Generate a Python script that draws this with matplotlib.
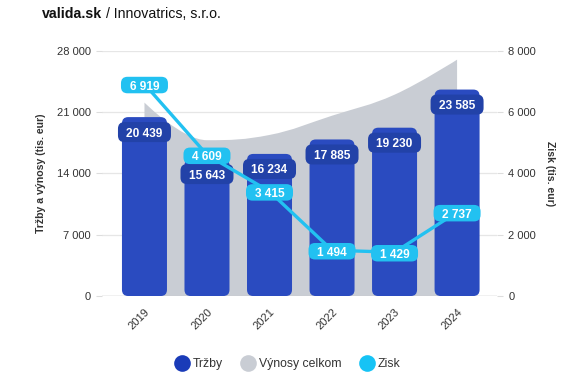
import matplotlib

matplotlib.use("Agg")
import matplotlib.pyplot as plt
import matplotlib.transforms as mtransforms
from matplotlib.lines import Line2D
from matplotlib.patches import FancyBboxPatch, PathPatch
from matplotlib.path import Path


YEARS = ["2019", "2020", "2021", "2022", "2023", "2024"]
TRZBY = [20439, 15643, 16234, 17885, 19230, 23585]
VYNOSY = [22100, 17800, 18400, 20600, 23000, 27000]
ZISK = [6919, 4609, 3415, 1494, 1429, 2737]

LEFT_TICKS = [0, 7000, 14000, 21000, 28000]
RIGHT_TICKS = [0, 2000, 4000, 6000, 8000]

BAR_COLOR = "#2a4bc0"
BAR_LABEL_COLOR = "#2242a8"
AREA_COLOR = "#c9cdd4"
LINE_COLOR = "#22c1f1"
TEXT_COLOR = "#333333"

plt.rcParams["font.family"] = ["Liberation Sans", "DejaVu Sans"]


def fmt(v):
    return f"{v:,}".replace(",", " ")


def spline_path(xs, ys, smoothing=1.5):
    # highcharts-like spline: cubic bezier with control points per point
    n = len(xs)
    left = [(xs[i], ys[i]) for i in range(n)]
    right = [(xs[i], ys[i]) for i in range(n)]
    denom = smoothing + 1
    for i in range(1, n - 1):
        px, py = xs[i - 1], ys[i - 1]
        nx, ny = xs[i + 1], ys[i + 1]
        lx = (smoothing * xs[i] + px) / denom
        ly = (smoothing * ys[i] + py) / denom
        rx = (smoothing * xs[i] + nx) / denom
        ry = (smoothing * ys[i] + ny) / denom
        corr = (ry - ly) * (rx - xs[i]) / (rx - lx) + ys[i] - ry
        ly += corr
        ry += corr
        if ly > max(py, ys[i]):
            ly = max(py, ys[i])
            ry = 2 * ys[i] - ly
        elif ly < min(py, ys[i]):
            ly = min(py, ys[i])
            ry = 2 * ys[i] - ly
        if ry > max(ny, ys[i]):
            ry = max(ny, ys[i])
            ly = 2 * ys[i] - ry
        elif ry < min(ny, ys[i]):
            ry = min(ny, ys[i])
            ly = 2 * ys[i] - ry
        left[i] = (lx, ly)
        right[i] = (rx, ry)

    verts = [(xs[0], 0), (xs[0], ys[0])]
    codes = [Path.MOVETO, Path.LINETO]
    for i in range(1, n):
        verts += [right[i - 1], left[i], (xs[i], ys[i])]
        codes += [Path.CURVE4] * 3
    verts += [(xs[-1], 0), (xs[0], 0)]
    codes += [Path.LINETO, Path.CLOSEPOLY]
    return Path(verts, codes)


def badge(fig, ax, xi, v, text, color, width, height, dy, zorder):
    # rounded label box sized in inches, anchored at a data point
    trans = fig.dpi_scale_trans + mtransforms.ScaledTranslation(
        xi, v, ax.transData)
    box = FancyBboxPatch(
        (-width / 2, dy - height / 2), width, height,
        boxstyle="round,pad=0,rounding_size=0.065",
        transform=trans, facecolor=color, edgecolor="none", zorder=zorder,
        clip_on=False,
    )
    ax.add_patch(box)
    ax.text(0, dy, text, transform=trans, ha="center", va="center_baseline",
            fontsize=8.6, fontweight="bold", color="white",
            zorder=zorder + 0.1)


def main() -> None:
    fig = plt.figure(figsize=(5.76, 3.8), dpi=100)
    ax = fig.add_axes([0.177, 0.221, 0.686, 0.645])
    ax2 = ax.twinx()

    x = list(range(len(YEARS)))

    ax.set_xlim(-0.68, 5.64)
    ax.set_ylim(0, 28000)
    ax2.set_ylim(0, 8000)

    # gray area for total revenue
    area = PathPatch(spline_path(x, VYNOSY), facecolor=AREA_COLOR,
                     edgecolor="none", zorder=1)
    ax.add_patch(area)

    # rounded bars
    bar_w = 0.72
    aspect = 28000 / 245 * 62.8
    for xi, v in zip(x, TRZBY):
        patch = FancyBboxPatch(
            (xi - bar_w / 2, 0), bar_w, v,
            boxstyle="round,pad=0,rounding_size=0.1",
            mutation_aspect=aspect,
            facecolor=BAR_COLOR, edgecolor="none", zorder=2,
        )
        ax.add_patch(patch)
    for xi, v in zip(x, TRZBY):
        badge(fig, ax, xi, v, fmt(v), BAR_LABEL_COLOR, 0.53, 0.20, -0.15, 3)

    # profit line
    ax2.plot(x, ZISK, color=LINE_COLOR, linewidth=2.4, zorder=4,
             solid_capstyle="round")
    for xi, v in zip(x, ZISK):
        badge(fig, ax2, xi, v, fmt(v), LINE_COLOR, 0.47, 0.165, -0.01, 5)

    ax.set_xticks(x)
    ax.set_xticklabels(YEARS, rotation=45, ha="right", rotation_mode="anchor",
                       fontsize=8, color=TEXT_COLOR)
    ax.tick_params(axis="x", length=0, pad=8)

    ax.set_yticks(LEFT_TICKS)
    ax.set_yticklabels([fmt(t) for t in LEFT_TICKS], fontsize=8,
                       color=TEXT_COLOR)
    ax2.set_yticks(RIGHT_TICKS)
    ax2.set_yticklabels([fmt(t) for t in RIGHT_TICKS], fontsize=8,
                        color=TEXT_COLOR)
    ax.tick_params(axis="y", length=4, width=0.8, color="#dddddd", pad=4)
    ax2.tick_params(axis="y", length=4, width=0.8, color="#dddddd", pad=4)

    ax.grid(axis="y", color="#e6e6e6", linewidth=0.9, zorder=0)
    ax.set_axisbelow(True)
    for a in (ax, ax2):
        for s in a.spines.values():
            s.set_visible(False)
    ax.axhline(0, color="#cccccc", linewidth=1.0, zorder=1.5)

    ax.set_ylabel("Tržby a výnosy (tis. eur)", fontsize=7.6,
                  fontweight="bold", color=TEXT_COLOR, labelpad=8)
    ax2.set_ylabel("Zisk (tis. eur)", fontsize=7.6, fontweight="bold",
                   color=TEXT_COLOR, rotation=270, labelpad=14)

    # title: bold site name followed by the company name
    t1 = fig.text(0.073, 0.963, "valida.sk", fontsize=10.2,
                  fontweight="bold", color="#111111", va="center")
    ax.annotate("/ Innovatrics, s.r.o.", xy=(1, 0.5), xycoords=t1,
                xytext=(3, 0), textcoords="offset points", va="center",
                fontsize=10.2, color="#111111", annotation_clip=False)

    handles = [
        Line2D([], [], marker="o", linestyle="none", markersize=12,
               markerfacecolor="#1a3bb8", markeredgecolor="none"),
        Line2D([], [], marker="o", linestyle="none", markersize=12,
               markerfacecolor=AREA_COLOR, markeredgecolor="none"),
        Line2D([], [], marker="o", linestyle="none", markersize=12,
               markerfacecolor="#16c3f5", markeredgecolor="none"),
    ]
    fig.legend(handles, ["Tržby", "Výnosy celkom", "Zisk"], loc="center",
               bbox_to_anchor=(0.5, 0.042), ncol=3, frameon=False,
               fontsize=8.8, handletextpad=0.35, columnspacing=1.6,
               handlelength=1.0, labelcolor=TEXT_COLOR)

    fig.savefig("out.png", dpi=100)
    plt.close(fig)


if __name__ == "__main__":
    main()
